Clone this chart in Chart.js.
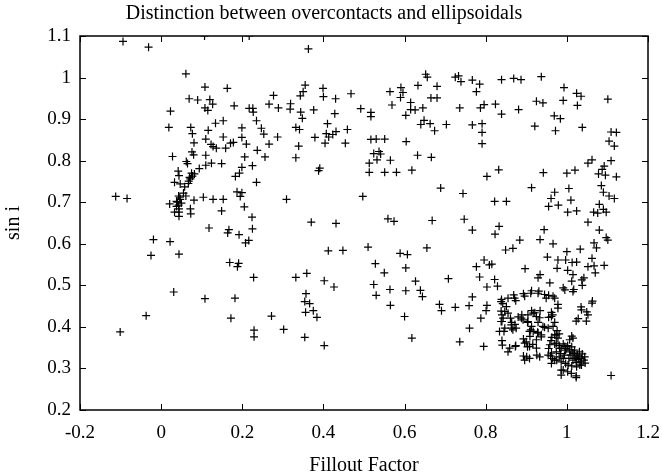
<!DOCTYPE html>
<html>
<head>
<meta charset="utf-8">
<title>Distinction between overcontacts and ellipsoidals</title>
<script src="https://cdn.jsdelivr.net/npm/chart.js@4/dist/chart.umd.min.js"></script>
<style>
  html, body { margin: 0; padding: 0; background: #fff; }
  #wrap { width: 662px; height: 476px; }
</style>
</head>
<body>
<div id="wrap"><canvas id="scatterChart"></canvas></div>
<script>
// values, one line of x matches one line of y
const fillout = [
  -0.094, -0.031, 0.107, 0.217, 0.363, 0.061, 0.108, 0.163, 0.069, 0.090,
  0.120, 0.127, 0.108, 0.115, 0.023, 0.180, 0.217, 0.226, 0.227, 0.277,
  0.266, 0.289, 0.319, 0.318, 0.344, 0.343, 0.350, 0.355, 0.376, 0.399,
  0.400, 0.430, 0.468, 0.428, 0.492, 0.517, 0.517, 0.019, 0.073, 0.077,
  0.081, 0.116, 0.153, 0.134, 0.110, 0.123, 0.128, 0.136, 0.153, 0.159,
  0.171, 0.149, 0.124, 0.110, 0.110, 0.076, 0.080, 0.062, 0.065, 0.094,
  0.028, 0.042, 0.044, 0.033, 0.047, 0.058, 0.068, 0.077, 0.082, 0.072,
  0.038, 0.043, 0.047, 0.043, 0.055, 0.044, 0.044, 0.033, 0.021, 0.061,
  0.072, 0.073, 0.081, 0.104, 0.128, 0.153, 0.149, -0.112, -0.084, -0.019,
  -0.025, 0.022, 0.044, 0.031, -0.037, -0.101, 0.108, 0.118, 0.199, 0.187,
  0.195, 0.205, 0.224, 0.225, 0.167, 0.164, 0.192, 0.208, 0.216, 0.169,
  0.191, 0.188, 0.228, 0.182, 0.172, 0.229, 0.229, 0.272, 0.302, 0.183,
  0.193, 0.199, 0.206, 0.199, 0.199, 0.210, 0.178, 0.225, 0.235, 0.237,
  0.247, 0.253, 0.235, 0.256, 0.266, 0.287, 0.332, 0.332, 0.341, 0.339,
  0.348, 0.379, 0.388, 0.391, 0.410, 0.407, 0.404, 0.413, 0.423, 0.431,
  0.454, 0.459, 0.309, 0.370, 0.431, 0.412, 0.448, 0.332, 0.359, 0.357,
  0.354, 0.366, 0.356, 0.375, 0.384, 0.354, 0.402, 0.426, 0.402, 0.497,
  0.517, 0.530, 0.551, 0.524, 0.537, 0.541, 0.532, 0.513, 0.513, 0.565,
  0.551, 0.580, 0.564, 0.591, 0.596, 0.569, 0.590, 0.603, 0.615, 0.615,
  0.626, 0.645, 0.633, 0.652, 0.656, 0.680, 0.665, 0.680, 0.640, 0.648,
  0.663, 0.674, 0.703, 0.604, 0.618, 0.632, 0.666, 0.689, 0.725, 0.733,
  0.739, 0.767, 0.785, 0.777, 0.736, 0.787, 0.796, 0.824, 0.839, 0.869,
  0.887, 0.937, 0.839, 0.881, 0.767, 0.791, 0.791, 0.791, 0.803, 0.832,
  0.822, 0.851, 0.744, 0.747, 0.668, 0.767, 0.559, 0.574, 0.833, 0.823,
  0.849, 0.867, 0.884, 0.913, 0.942, 0.921, 0.925, 0.941, 0.969, 0.984,
  0.972, 0.991, 0.993, 1.024, 1.035, 1.026, 1.038, 1.101, 1.104, 1.109,
  1.122, 1.117, 1.109, 1.092, 1.087, 1.095, 1.122, 1.078, 1.052, 1.062,
  1.000, 1.020, 1.005, 1.010, 1.002, 1.024, 0.970, 0.961, 0.955, 0.979,
  1.085, 1.090, 1.104, 1.117, 1.080, 1.090, 1.097, 1.066, 1.076, 1.052,
  1.080, 1.067, 1.073, 1.097, 1.101, 1.062, 1.067, 1.070, 1.092, 1.052,
  1.042, 1.037, 1.038, 1.015, 1.012, 1.017, 1.002, 0.991, 0.997, 1.000,
  1.013, 1.033, 1.024, 0.978, 0.976, 0.966, 0.944, 0.934, 0.952, 0.958,
  0.934, 0.929, 0.897, 0.913, 0.931, 0.893, 0.945, 0.955, 0.966, 0.978,
  1.063, 1.049, 1.028, 1.035, 1.007, 1.109, 0.822, 0.809, 0.796, 0.815,
  0.777, 0.785, 0.803, 0.829, 0.795, 0.767, 0.759, 0.760, 0.788, 0.801,
  0.803, 0.708, 0.686, 0.691, 0.725, 0.736, 0.655, 0.627, 0.639, 0.644,
  0.603, 0.589, 0.607, 0.603, 0.600, 0.618, 0.550, 0.564, 0.565, 0.530,
  0.524, 0.528, 0.510, 0.839, 0.842, 0.869, 0.874, 0.838, 0.840, 0.840,
  0.864, 0.861, 0.872, 0.864, 0.880, 0.889, 0.845, 0.840, 0.859, 0.874,
  0.893, 0.900, 0.903, 0.893, 0.901, 0.926, 0.911, 0.917, 0.909, 0.916,
  0.928, 0.937, 0.913, 0.921, 0.903, 0.929, 0.945, 0.962, 0.965, 0.934,
  0.955, 0.970, 0.976, 0.963, 0.974, 0.981, 0.961, 0.970, 0.981, 0.991,
  1.002, 1.012, 0.986, 0.997, 1.007, 1.018, 1.026, 1.030, 1.036, 1.042,
  1.044, 1.033, 1.023, 1.015, 1.005, 0.994, 0.984, 0.974, 0.965, 0.975,
  0.986, 0.997, 1.012, 1.024, 0.986, 1.002, 1.023, 1.012, 0.955, 1.031,
  1.038, 1.045, 1.020, 1.010, 0.991, 0.981, 0.960, 0.998, 1.019, 1.028,
  1.036, 0.040, 0.046, 0.038, 0.050, 0.044, 0.070, 0.075, 0.067, 0.838,
  0.855, 0.871, 0.896, 0.911, 0.929, 0.949, 0.970, 0.995, 1.015, 0.978,
  1.036, 1.052, 1.048, 1.023, 1.062, 0.851, 0.847, 0.855, 0.843, 0.838,
  0.834, 0.847, 0.863, 0.867, 0.875, 0.888, 0.892, 0.904, 0.917, 0.925,
  0.933, 0.904, 0.908, 0.913, 0.929, 0.925, 0.937, 0.941, 0.954, 0.962,
  0.966, 0.970, 0.978, 0.974, 0.958, 0.962, 0.970, 0.982, 0.995, 1.007,
  1.015, 1.015, 1.023, 1.032, 1.003, 0.991, 1.011, 1.023, 0.986, 0.954,
  0.962, 0.896, 0.908, 0.933, 0.896, 0.908, 0.925, 0.873, 0.855, 0.841
];
const sinI = [
  1.087, 1.073, 1.1, 1.1, 1.069, 1.009, 0.977, 0.974, 0.949, 0.946,
  0.947, 0.936, 0.927, 0.921, 0.919, 0.932, 0.926, 0.926, 0.917, 0.957,
  0.936, 0.927, 0.937, 0.924, 0.917, 0.956, 0.966, 0.982, 0.922, 0.974,
  0.954, 0.949, 0.961, 0.913, 0.925, 0.916, 0.906, 0.880, 0.880, 0.865,
  0.843, 0.873, 0.896, 0.890, 0.852, 0.839, 0.834, 0.830, 0.857, 0.830,
  0.842, 0.793, 0.794, 0.813, 0.789, 0.821, 0.814, 0.798, 0.793, 0.781,
  0.810, 0.775, 0.764, 0.748, 0.744, 0.737, 0.751, 0.763, 0.768, 0.756,
  0.702, 0.693, 0.707, 0.715, 0.722, 0.676, 0.666, 0.676, 0.696, 0.715,
  0.684, 0.672, 0.705, 0.712, 0.707, 0.707, 0.679, 0.714, 0.709, 0.610,
  0.572, 0.605, 0.575, 0.484, 0.427, 0.388, 0.468, 0.638, 0.723, 0.725,
  0.714, 0.689, 0.664, 0.636, 0.634, 0.626, 0.622, 0.602, 0.608, 0.555,
  0.553, 0.545, 0.519, 0.469, 0.421, 0.392, 0.376, 0.426, 0.394, 0.762,
  0.770, 0.784, 0.809, 0.856, 0.879, 0.840, 0.844, 0.788, 0.748, 0.825,
  0.878, 0.864, 0.896, 0.809, 0.840, 0.857, 0.807, 0.880, 0.875, 0.835,
  0.902, 0.856, 0.776, 0.782, 0.889, 0.865, 0.842, 0.857, 0.863, 0.870,
  0.842, 0.875, 0.707, 0.652, 0.649, 0.583, 0.584, 0.519, 0.529, 0.480,
  0.461, 0.456, 0.435, 0.439, 0.423, 0.375, 0.511, 0.496, 0.355, 0.714,
  0.851, 0.852, 0.852, 0.817, 0.822, 0.816, 0.802, 0.794, 0.772, 0.801,
  0.772, 0.772, 0.966, 0.976, 0.964, 0.934, 0.952, 0.909, 0.940, 0.923,
  0.922, 0.927, 0.981, 1.008, 1.001, 0.979, 0.951, 0.951, 0.887, 0.897,
  0.889, 0.872, 0.887, 0.846, 0.777, 0.813, 0.808, 0.734, 1.001, 1.004,
  0.990, 0.994, 0.984, 0.966, 0.927, 0.927, 0.935, 0.936, 0.995, 0.998,
  0.995, 1.002, 0.912, 0.923, 0.886, 0.889, 0.868, 0.841, 0.762, 0.778,
  0.702, 0.702, 0.721, 0.659, 0.656, 0.633, 0.660, 0.654, 0.642, 0.623,
  0.585, 0.589, 0.609, 0.735, 0.771, 0.883, 0.943, 0.939, 0.908, 0.901,
  0.872, 0.945, 0.976, 0.962, 0.955, 0.933, 0.880, 0.948, 0.847, 0.869,
  0.868, 0.835, 0.800, 0.787, 0.779, 0.765, 0.761, 0.768, 0.794, 0.802,
  0.770, 0.777, 0.733, 0.705, 0.676, 0.679, 0.724, 0.709, 0.690, 0.693,
  0.740, 0.724, 0.715, 0.709, 0.695, 0.683, 0.676, 0.676, 0.674, 0.652,
  0.633, 0.602, 0.590, 0.615, 0.609, 0.565, 0.547, 0.530, 0.548, 0.545,
  0.518, 0.513, 0.500, 0.526, 0.510, 0.490, 0.536, 0.494, 0.561, 0.581,
  0.555, 0.587, 0.556, 0.561, 0.541, 0.600, 0.634, 0.610, 0.568, 0.506,
  0.526, 0.518, 0.540, 0.487, 0.486, 0.480, 0.478, 0.476, 0.474, 0.454,
  0.462, 0.436, 0.420, 0.448, 0.369, 0.283, 0.514, 0.549, 0.561, 0.551,
  0.545, 0.520, 0.496, 0.498, 0.353, 0.472, 0.451, 0.397, 0.421, 0.439,
  0.452, 0.516, 0.454, 0.439, 0.447, 0.364, 0.590, 0.510, 0.488, 0.473,
  0.542, 0.577, 0.574, 0.487, 0.425, 0.373, 0.530, 0.490, 0.452, 0.476,
  0.502, 0.552, 0.592, 0.466, 0.456, 0.477, 0.463, 0.438, 0.429, 0.413,
  0.411, 0.421, 0.406, 0.397, 0.424, 0.429, 0.389, 0.367, 0.349, 0.355,
  0.371, 0.364, 0.352, 0.330, 0.328, 0.332, 0.393, 0.389, 0.377, 0.358,
  0.387, 0.381, 0.439, 0.434, 0.411, 0.411, 0.399, 0.435, 0.429, 0.439,
  0.423, 0.411, 0.391, 0.375, 0.381, 0.383, 0.367, 0.359, 0.355, 0.359,
  0.355, 0.352, 0.348, 0.344, 0.340, 0.336, 0.332, 0.328, 0.324, 0.320,
  0.328, 0.316, 0.314, 0.320, 0.324, 0.332, 0.336, 0.340, 0.324, 0.320,
  0.316, 0.312, 0.306, 0.304, 0.296, 0.292, 0.282, 0.378, 0.348, 0.340,
  0.335, 0.313, 0.324, 0.332, 0.324, 0.328, 0.330, 0.348, 0.344, 0.322,
  0.308, 0.700, 0.712, 0.690, 0.698, 0.684, 0.760, 0.770, 0.745, 0.461,
  0.469, 0.469, 0.474, 0.481, 0.481, 0.469, 0.469, 0.489, 0.485, 0.445,
  0.441, 0.429, 0.414, 0.414, 0.457, 0.449, 0.437, 0.433, 0.421, 0.413,
  0.389, 0.397, 0.405, 0.393, 0.397, 0.421, 0.417, 0.429, 0.433, 0.425,
  0.422, 0.413, 0.389, 0.401, 0.385, 0.369, 0.376, 0.401, 0.397, 0.425,
  0.401, 0.381, 0.373, 0.361, 0.357, 0.337, 0.320, 0.349, 0.353, 0.345,
  0.373, 0.337, 0.325, 0.308, 0.308, 0.296, 0.288, 0.278, 0.284, 0.332,
  0.312, 0.320, 0.324, 0.328, 0.361, 0.353, 0.349, 0.353, 0.340, 0.356
];

const xTicks = [-0.2, 0, 0.2, 0.4, 0.6, 0.8, 1, 1.2];
const yTicks = [0.2, 0.3, 0.4, 0.5, 0.6, 0.7, 0.8, 0.9, 1, 1.1];

const serif = 'Liberation Serif, Times New Roman, serif';
const fmt = v => String(+(+v).toFixed(2));

// gnuplot style frame with inward ticks on all four sides
const framePlugin = {
  id: 'frame',
  afterDraw(chart) {
    const { ctx, chartArea: a, scales } = chart;
    const len = 6;
    ctx.save();
    ctx.strokeStyle = '#000';
    ctx.lineWidth = 1;
    ctx.beginPath();
    xTicks.forEach(v => {
      const px = Math.round(scales.x.getPixelForValue(v)) + 0.5;
      ctx.moveTo(px, a.bottom); ctx.lineTo(px, a.bottom - len);
      ctx.moveTo(px, a.top); ctx.lineTo(px, a.top + len);
    });
    yTicks.forEach(v => {
      const py = Math.round(scales.y.getPixelForValue(v)) + 0.5;
      ctx.moveTo(a.left, py); ctx.lineTo(a.left + len, py);
      ctx.moveTo(a.right, py); ctx.lineTo(a.right - len, py);
    });
    ctx.stroke();
    ctx.lineWidth = 1.5;
    ctx.strokeRect(a.left, a.top, a.right - a.left, a.bottom - a.top);
    ctx.restore();
  }
};

new Chart(document.getElementById('scatterChart'), {
  type: 'scatter',
  data: {
    datasets: [{
      data: fillout.map((x, i) => ({ x, y: sinI[i] })),
      pointStyle: 'cross',
      pointRadius: 4,
      pointBorderWidth: 1.2,
      borderColor: '#000',
      backgroundColor: '#000'
    }]
  },
  options: {
    responsive: true,
    maintainAspectRatio: false,
    animation: false,
    events: [],
    layout: { padding: { left: 0, right: 14, top: 0, bottom: 0 } },
    plugins: {
      legend: { display: false },
      tooltip: { enabled: false },
      title: {
        display: true,
        text: 'Distinction between overcontacts and ellipsoidals',
        color: '#000',
        font: { family: serif, size: 20, weight: 'normal' },
        padding: { top: 2, bottom: 10 }
      }
    },
    scales: {
      x: {
        type: 'linear',
        min: -0.2, max: 1.2,
        afterFit: s => { s.height = 66; s.paddingLeft = 0; s.paddingRight = 0; },
        afterBuildTicks: s => { s.ticks = xTicks.map(value => ({ value })); },
        grid: { display: false, drawTicks: false },
        border: { display: false },
        ticks: { color: '#000', padding: 12, font: { family: serif, size: 19 }, callback: fmt, maxRotation: 0 },
        title: { display: true, text: 'Fillout Factor', color: '#000', font: { family: serif, size: 20 }, padding: { top: 0, bottom: -2 } }
      },
      y: {
        type: 'linear',
        min: 0.2, max: 1.1,
        afterFit: s => { s.width = 80; s.paddingTop = 0; s.paddingBottom = 0; },
        afterBuildTicks: s => { s.ticks = yTicks.map(value => ({ value })); },
        grid: { display: false, drawTicks: false },
        border: { display: false },
        ticks: { color: '#000', padding: 9, font: { family: serif, size: 19 }, callback: fmt },
        title: { display: true, text: 'sin i', color: '#000', font: { family: serif, size: 20 }, padding: { top: 2, bottom: 0 } }
      }
    }
  },
  plugins: [framePlugin]
});
</script>
</body>
</html>
